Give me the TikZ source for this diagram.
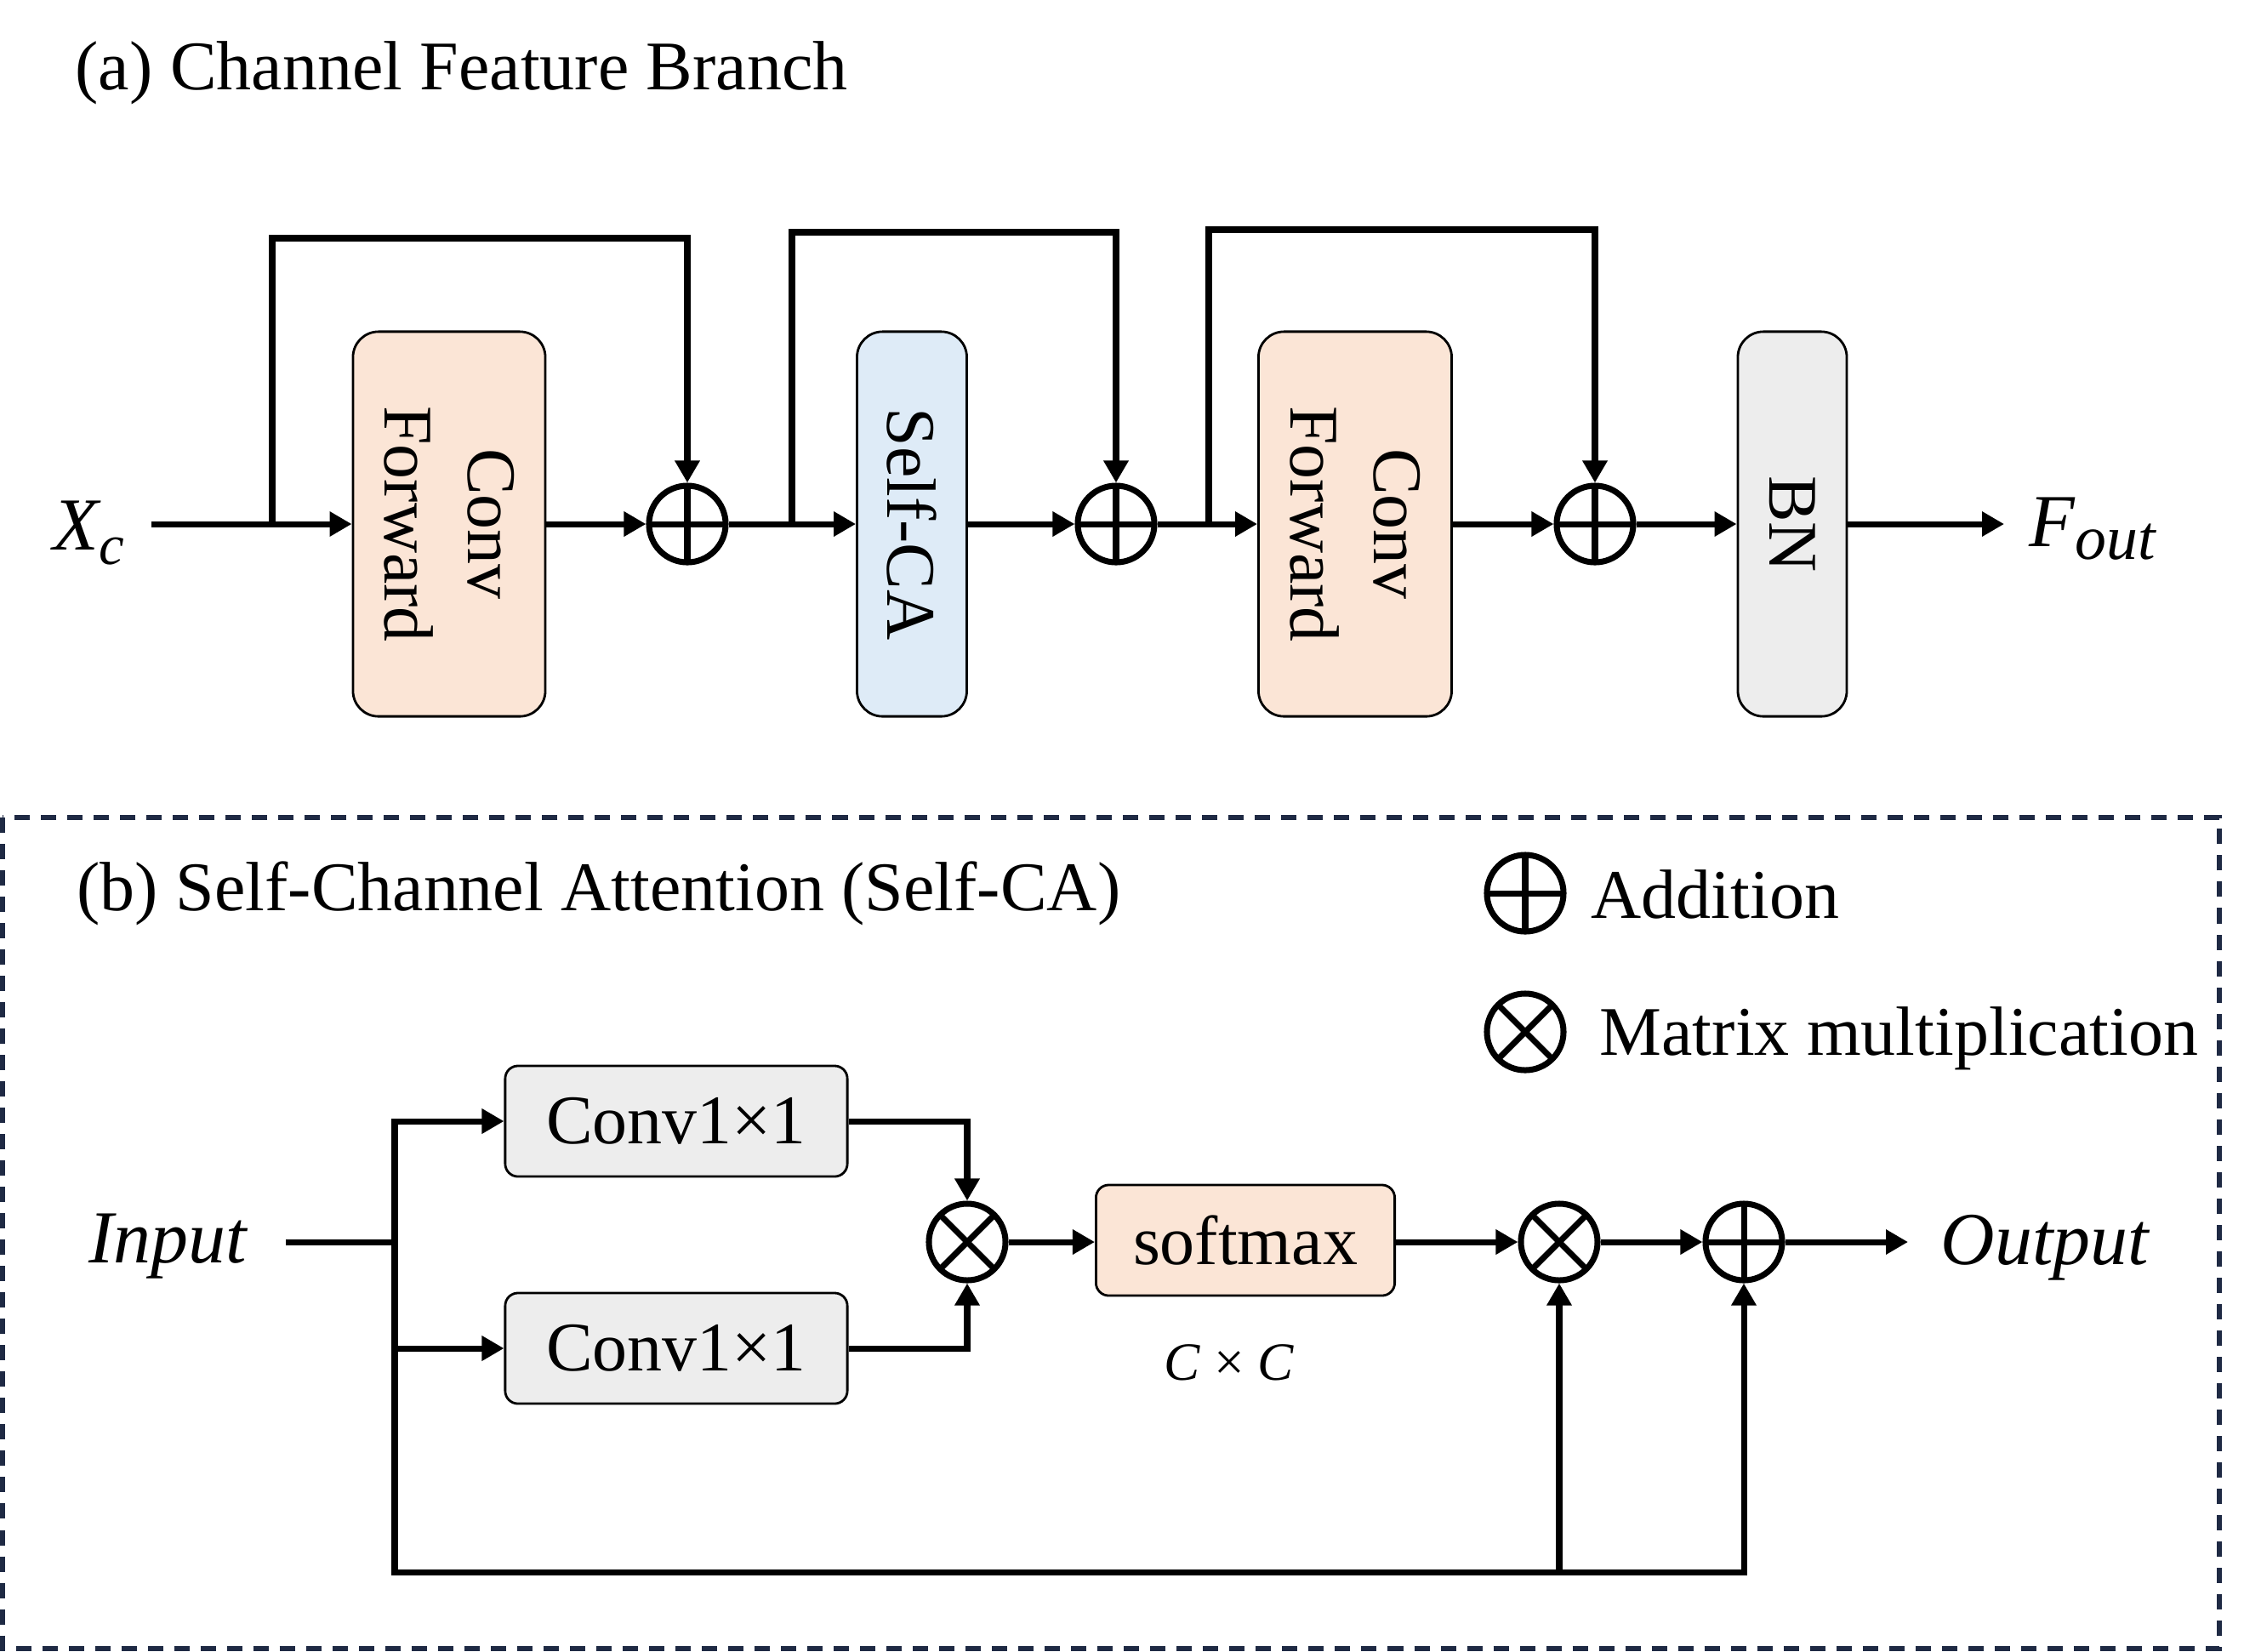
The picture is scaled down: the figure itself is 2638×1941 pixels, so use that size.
\documentclass[tikz,border=0pt]{standalone}
\usepackage{fontspec}
\setmainfont{Liberation Serif}
\usetikzlibrary{arrows.meta,calc}
\definecolor{peach}{HTML}{FBE5D6}
\definecolor{lblue}{HTML}{DEEBF7}
\definecolor{lgray}{HTML}{EDEDED}
\definecolor{navy}{HTML}{1F2A44}
\begin{document}
\begin{tikzpicture}[x=0.01cm,y=-0.01cm,
  txt/.style={font=\fontsize{23.3pt}{28pt}\selectfont, inner sep=0},
  itl/.style={font=\fontsize{25pt}{30pt}\selectfont\itshape, inner sep=0},
  blk/.style={draw=black, line width=0.8pt, rounded corners=0.3cm, inner sep=0},
  sblk/.style={draw=black, line width=0.8pt, rounded corners=0.15cm, inner sep=0, font=\fontsize{23.3pt}{28pt}\selectfont},
  op/.style={circle, draw, line width=2pt, minimum size=0.9cm, inner sep=0},
  oplus/.style={op, path picture={\draw[line width=2pt] (path picture bounding box.north) -- (path picture bounding box.south) (path picture bounding box.west) -- (path picture bounding box.east);}},
  otimes/.style={op, path picture={\draw[line width=2pt] (path picture bounding box.north west) -- (path picture bounding box.south east) (path picture bounding box.north east) -- (path picture bounding box.south west);}},
  ln/.style={line width=2pt},
  arr/.style={line width=2pt, -{Triangle[length=0.26cm,width=0.28cm]}},
  border/.style={draw=navy, line width=1.5pt, dash pattern=on 0.18cm off 0.13cm},
]
\useasboundingbox (0,0) rectangle (2638,1941);

% ---------- (a) ----------
\node[txt, anchor=base west] (ta) at (88,105) {(a) Channel Feature Branch};

\node[itl, anchor=base west] (xc) at (62,646) {X\raisebox{-0.17cm}{\fontsize{19pt}{19pt}\selectfont c}};
\node[blk, fill=peach, minimum width=2.26cm, minimum height=4.52cm] (cf1) at (528,616) {};
\node[txt, rotate=-90, align=center] (cf1t) at (cf1) {Conv\\Forward};
\node[oplus] (p1) at (808,616) {};
\node[blk, fill=lblue, minimum width=1.29cm, minimum height=4.52cm] (sca) at (1072,616) {};
\node[txt, rotate=-90] (scat) at (sca) {Self-CA};
\node[oplus] (p2) at (1312,616) {};
\node[blk, fill=peach, minimum width=2.27cm, minimum height=4.52cm] (cf2) at (1593,616) {};
\node[txt, rotate=-90, align=center] (cf2t) at (cf2) {Conv\\Forward};
\node[oplus] (p3) at (1875,616) {};
\node[blk, fill=lgray, minimum width=1.28cm, minimum height=4.52cm] (bn) at (2107,616) {};
\node[txt, rotate=-90] (bnt) at (bn) {BN};
\node[itl, anchor=base west] (fout) at (2385,642) {F\raisebox{-0.15cm}{\fontsize{21pt}{21pt}\selectfont out}};

\coordinate (s0) at (178,616);
\coordinate (b1) at (320,616);
\coordinate (b2) at (931,616);
\coordinate (b3) at (1421,616);
\coordinate (fe) at (2356,616);

\draw[arr] (s0) -- (cf1.west);
\draw[arr] (cf1.east) -- (p1.west);
\draw[arr] (p1.east) -- (sca.west);
\draw[arr] (sca.east) -- (p2.west);
\draw[arr] (p2.east) -- (cf2.west);
\draw[arr] (cf2.east) -- (p3.west);
\draw[arr] (p3.east) -- (bn.west);
\draw[arr] (bn.east) -- (fe);
\draw[arr] (b1) -- ++(0,-336) -| (p1.north);
\draw[arr] (b2) -- ++(0,-343) -| (p2.north);
\draw[arr] (b3) -- ++(0,-346) -| (p3.north);

% ---------- (b) ----------
\draw[border] (3,961) rectangle (2609,1938);
\node[txt, anchor=base west] (tb) at (90,1070) {(b) Self-Channel Attention (Self-CA)};
\node[oplus] (lg1) at (1793,1050) {};
\node[txt, anchor=base west] (lg1t) at (1870,1079) {Addition};
\node[otimes] (lg2) at (1793,1213) {};
\node[txt, anchor=base west] (lg2t) at (1880,1240) {Matrix multiplication};

\node[itl, anchor=base] (inp) at (197,1484) {Input};
\node[sblk, fill=lgray, minimum width=4.02cm, minimum height=1.3cm] (c1) at (795,1318) {Conv1×1};
\node[sblk, fill=lgray, minimum width=4.02cm, minimum height=1.3cm] (c2) at (795,1585) {Conv1×1};
\node[otimes] (m1) at (1137,1460) {};
\node[sblk, fill=peach, minimum width=3.51cm, minimum height=1.3cm] (sm) at (1464,1458) {softmax};
\node[font=\fontsize{18pt}{20pt}\selectfont, inner sep=0] (cc) at (1445,1602) {\textit{C} × \textit{C}};
\node[otimes] (m2) at (1833,1460) {};
\node[oplus] (pl) at (2050,1460) {};
\node[itl, anchor=base west] (outp) at (2281,1486) {Output};

\coordinate (i0) at (336,1460);
\coordinate (iv) at (464,1460);
\coordinate (vt) at (464,1318);
\coordinate (vb) at (464,1848);
\coordinate (oe) at (2243,1460);

\draw[ln] (i0) -- (iv);
\draw[arr] (vb) -- (vt) -- (c1.west);
\draw[arr] (vt |- c2.west) -- (c2.west);
\draw[arr] (vt) -- (vb) -| (pl.south);
\draw[arr] (vb -| m2.south) -- (m2.south);
\draw[arr] (c1.east) -| (m1.north);
\draw[arr] (c2.east) -| (m1.south);
\draw[arr] (m1.east) -- (sm.west |- m1.east);
\draw[arr] (sm.east |- m2.west) -- (m2.west);
\draw[arr] (m2.east) -- (pl.west);
\draw[arr] (pl.east) -- (oe);
\end{tikzpicture}
\end{document}
